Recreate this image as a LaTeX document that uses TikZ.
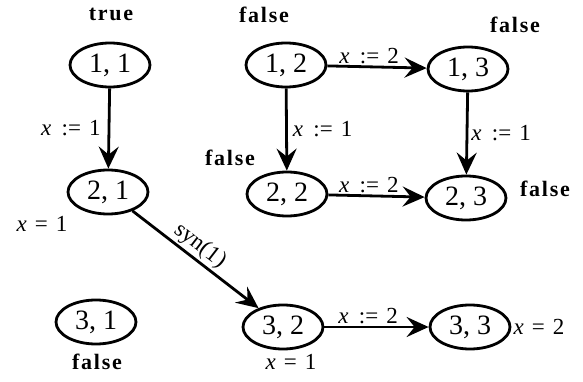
\documentclass[tikz,border=0pt]{standalone}
\usepackage{fontspec}
\setmainfont{Liberation Serif}
\newfontfamily\blfont[LetterSpace=8]{Liberation Serif Bold}
\usetikzlibrary{arrows.meta,shapes.geometric}
\newcommand{\asg}[1]{\textit{x}\hspace{0.45em}:=\hspace{0.35em}#1}
\newcommand{\eqv}[1]{\textit{x}\hspace{0.35em}=\hspace{0.35em}#1}
\begin{document}
\begin{tikzpicture}[x=1pt,y=-1pt,
  st/.style={draw,ellipse,line width=2.8pt,minimum width=80pt,minimum height=44pt,inner sep=0pt,font=\fontsize{28}{28}\selectfont},
  tr/.style={line width=2.8pt,-{Stealth[length=22pt,width=20pt,inset=8pt]}},
  lab/.style={font=\fontsize{23}{23}\selectfont,inner sep=1pt},
  bl/.style={font=\fontsize{22}{22}\blfont,inner sep=0pt}]
\useasboundingbox (0,0) rectangle (583,382);
\node[st] (n11) at (110,65) {1, 1};
\node[st] (n21) at (108,192) {2, 1};
\node[st] (n12) at (286,65) {1, 2};
\node[st] (n13) at (468,69) {1, 3};
\node[st] (n22) at (287,194) {2, 2};
\node[st] (n23) at (466,198) {2, 3};
\node[st] (n31) at (96,322) {3, 1};
\node[st] (n32) at (283,327) {3, 2};
\node[st] (n33) at (470,327) {3, 3};
% state labels
\node[bl] (t11) at (111,14) {true};
\node[bl] (t12) at (264,15) {false};
\node[bl] (t13) at (515,25) {false};
\node[bl] (t22) at (230,158) {false};
\node[bl] (t23) at (545,189) {false};
\node[bl] (t31) at (97,362) {false};
\node[lab] (v21) at (42,224) {\eqv{1}};
\node[lab] (v32) at (291,362) {\eqv{1}};
\node[lab] (v33) at (539,327) {\eqv{2}};
% transitions
\draw[tr] (n11) -- (n21) node[lab,midway,left=6pt] {\asg{1}};
\draw[tr] (n12) -- (n13) node[lab,pos=0.42,above=1pt] {\asg{2}};
\draw[tr] (n12) -- (n22) node[lab,midway,right=4pt] {\asg{1}};
\draw[tr] (n13) -- (n23) node[lab,midway,right=2pt] {\asg{1}};
\draw[tr] (n22) -- (n23) node[lab,pos=0.42,above=1pt] {\asg{2}};
\draw[tr] (n21) -- (n32) node[lab,pos=0.47,sloped,above=1pt] {syn(1)};
\draw[tr] (n32) -- (n33) node[lab,pos=0.42,above=1pt] {\asg{2}};
\end{tikzpicture}
\end{document}
